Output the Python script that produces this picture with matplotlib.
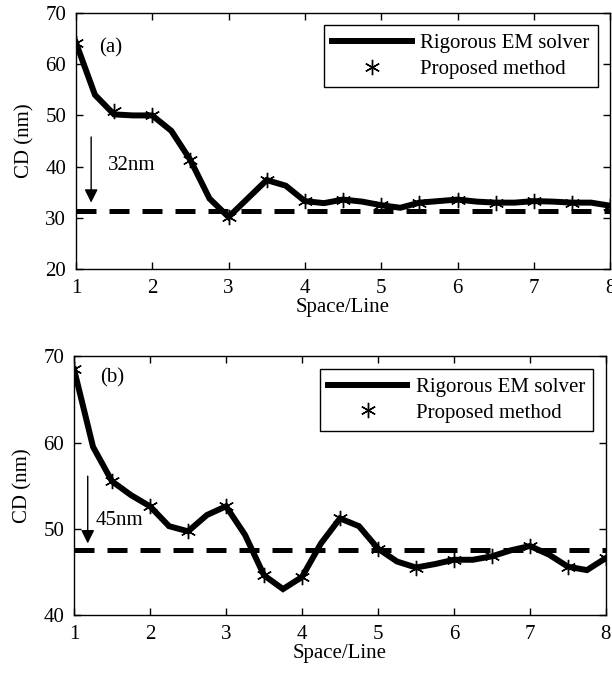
import matplotlib
matplotlib.use("Agg")
import matplotlib.pyplot as plt

plt.rcParams['font.family'] = ['Liberation Serif', 'DejaVu Serif']
plt.rcParams['font.size'] = 15

# Panel (a) data
xa = [1, 1.25, 1.5, 1.75, 2, 2.25, 2.5, 2.75, 3, 3.25, 3.5, 3.75, 4, 4.25, 4.5, 4.75,
      5, 5.25, 5.5, 5.75, 6, 6.25, 6.5, 6.75, 7, 7.25, 7.5, 7.75, 8]
cd_a = [64.2, 54, 50.2, 50, 50, 47, 41.3, 33.8, 30.2, 33.8, 37.4, 36.3, 33.3, 32.9, 33.6, 33.2,
        32.5, 32, 33, 33.3, 33.6, 33.2, 33, 33, 33.3, 33.2, 33, 33, 32.4]
xa_m = [1, 1.5, 2, 2.5, 3, 3.5, 4, 4.5, 5, 5.5, 6, 6.5, 7, 7.5, 8]
cd_a_m = [64.2, 50.8, 50, 41.3, 30.2, 37.4, 33.3, 33.6, 32.5, 33, 33.6, 33, 33.3, 33, 32.4]
target_a = 31.3

# Panel (b) data
xb = xa
cd_b = [68.5, 59.5, 55.5, 53.9, 52.6, 50.3, 49.7, 51.6, 52.6, 49.3, 44.6, 43, 44.4, 48.3, 51.2, 50.3,
        47.7, 46.2, 45.5, 45.9, 46.4, 46.4, 46.8, 47.5, 48, 47, 45.6, 45.2, 46.6]
xb_m = xa_m
cd_b_m = [68.5, 55.5, 52.6, 49.7, 52.6, 44.6, 44.4, 51.2, 47.7, 45.5, 46.4, 46.8, 48, 45.6, 46.6]
target_b = 47.5

fig = plt.figure(figsize=(6.12, 6.75), dpi=100)
ax1 = fig.add_axes([0.124, 0.601, 0.873, 0.380])
ax2 = fig.add_axes([0.121, 0.089, 0.869, 0.383])

asterisk = (6, 2, 0)


def draw(ax, x, y, xm, ym, target, ylim, yticks, label, arrow, note):
    ax.plot(x, y, color='black', lw=4.3, solid_joinstyle='miter', label='Rigorous EM solver', zorder=3)
    ax.plot(xm, ym, ls='none', marker=asterisk, ms=11, mew=1, color='black',
            label='Proposed method', zorder=4)
    ax.axhline(target, color='black', lw=3.6, dashes=(4, 2.6), zorder=2)
    ax.set_xlim(1, 8)
    ax.set_ylim(*ylim)
    ax.set_yticks(yticks)
    ax.set_xticks(range(1, 9))
    ax.set_xlabel('Space/Line', labelpad=0)
    ax.set_ylabel('CD (nm)', labelpad=8)
    ax.tick_params(direction='in', top=True, right=True, length=5, width=1, pad=7)
    for s in ax.spines.values():
        s.set_linewidth(1)
    ax.text(label[0], label[1], label[2], ha='left', va='center')
    ax.annotate('', xy=(arrow[0], arrow[2]), xytext=(arrow[0], arrow[1]),
                arrowprops=dict(arrowstyle='-|>', color='black', lw=1, mutation_scale=20,
                                shrinkA=0, shrinkB=0))
    ax.text(note[0], note[1], note[2], ha='left', va='center')
    leg = ax.legend(loc='upper right', fancybox=False, framealpha=1, edgecolor='black',
                    handlelength=3.8, borderpad=0.4, labelspacing=0.3, handletextpad=0.4,
                    borderaxespad=0.6)
    leg.get_frame().set_linewidth(1)


draw(ax1, xa, cd_a, xa_m, cd_a_m, target_a, (20, 70), [20, 30, 40, 50, 60, 70],
     (1.31, 63.2, '(a)'), (1.2, 45.8, 33.0), (1.42, 40.3, '32nm'))
draw(ax2, xb, cd_b, xb_m, cd_b_m, target_b, (40, 70), [40, 50, 60, 70],
     (1.34, 67.5, '(b)'), (1.18, 56.1, 48.3), (1.28, 51.0, '45nm'))

fig.savefig('out.png', dpi=100)
